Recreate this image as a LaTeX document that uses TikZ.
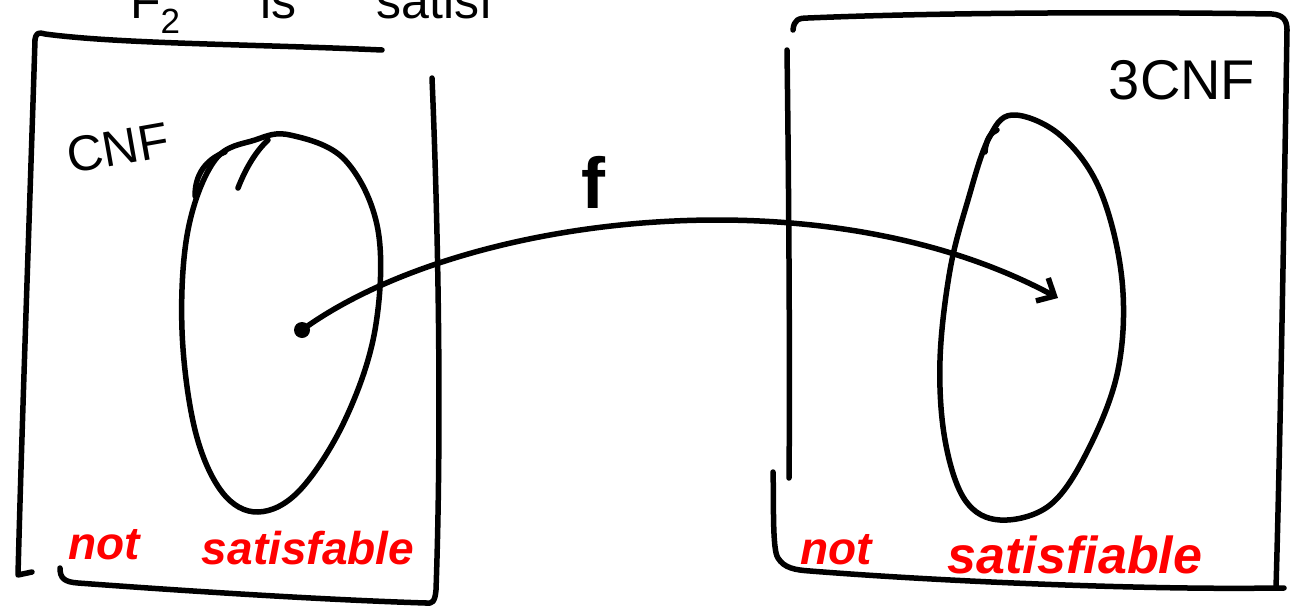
\documentclass[tikz,border=0pt]{standalone}
\usepackage{fontspec}
\setmainfont{Liberation Sans}
\usetikzlibrary{arrows.meta}
\begin{document}
\begin{tikzpicture}[x=1pt,y=-1pt,
  hand/.style={line width=5.5pt,line cap=round,line join=round,black},
  lbl/.style={inner sep=0pt,font=\fontsize{50}{54}\selectfont},
  redlbl/.style={inner sep=0pt,text=red,font=\fontsize{46}{50}\selectfont\bfseries\itshape}]
\useasboundingbox (0,0) rectangle (1293,608);
\fill[white] (0,0) rectangle (1293,608);
% clipped heading at the top
\begin{scope}
\clip (0,0) rectangle (1293,608);
\node[lbl,anchor=base west] (head) at (130,18) {F\textsubscript{2}\hspace{80pt}is\hspace{80pt}satisf};
\end{scope}
% left box
\draw[hand] (35,40) .. controls (36,33) and (38,32) .. (45,34) .. controls (120,44) and (250,44) .. (382,50);
\draw[hand] (35,40) .. controls (30,200) and (22,420) .. (18,575) -- (32,572);
\draw[hand] (432,78) .. controls (438,220) and (442,420) .. (436,590) .. controls (435,602) and (432,604) .. (426,603);
\draw[hand] (60,568) .. controls (60,578) and (64,582) .. (78,583) .. controls (200,592) and (330,600) .. (426,603);
% right box
\draw[hand] (793,30) .. controls (794,20) and (798,18) .. (808,18) .. controls (950,12) and (1150,12) .. (1272,14) .. controls (1283,15) and (1287,20) .. (1287,30);
\draw[hand] (1287,30) .. controls (1284,220) and (1280,450) .. (1276,588) -- (1284,588);
\draw[hand] (787,50) .. controls (789,200) and (790,380) .. (789,478);
\draw[hand] (773,472) .. controls (774,500) and (772,550) .. (778,558) .. controls (784,568) and (795,570) .. (810,571) .. controls (950,582) and (1150,590) .. (1276,588);
% left ellipse
\draw[hand] plot[smooth cycle,tension=0.6] coordinates {(290,135) (345,160) (378,230) (375,330) (345,420) (300,490) (258,512) (222,492) (195,430) (182,330) (188,230) (215,160) (255,140)};
\draw[hand] (195,196) .. controls (195,175) and (205,160) .. (225,152);
\draw[hand] (238,188) .. controls (245,170) and (255,152) .. (268,140);
% right ellipse
\draw[hand] plot[smooth cycle,tension=0.6] coordinates {(1012,115) (1060,135) (1100,190) (1122,280) (1118,370) (1088,450) (1050,505) (1000,520) (965,500) (945,440) (940,360) (950,270) (968,200) (988,140)};
\draw[hand] (985,152) .. controls (986,140) and (990,133) .. (997,130);
% mapping
\coordinate (src) at (302,330);
\coordinate (dst) at (1058,298);
\fill (src) circle (8pt);
\draw[hand,-{Straight Barb[length=14pt,width=26pt,line width=5.5pt]}] (src) .. controls (460,215) and (820,170) .. (dst);
% labels
\node[lbl,rotate=10] (cnf) at (118,148) {CNF};
\node[lbl,font=\fontsize{56}{60}\selectfont] (tcnf) at (1182,80) {3CNF};
\node[lbl,font=\fontsize{72}{76}\selectfont\bfseries] (f) at (593,182) {f};
\node[redlbl] (n1) at (104,545) {not};
\node[redlbl] (s1) at (308,548) {satisfable};
\node[redlbl] (n2) at (836,550) {not};
\node[redlbl,font=\fontsize{52}{56}\selectfont\bfseries\itshape] (s2) at (1075,555) {satisfiable};
\end{tikzpicture}
\end{document}
